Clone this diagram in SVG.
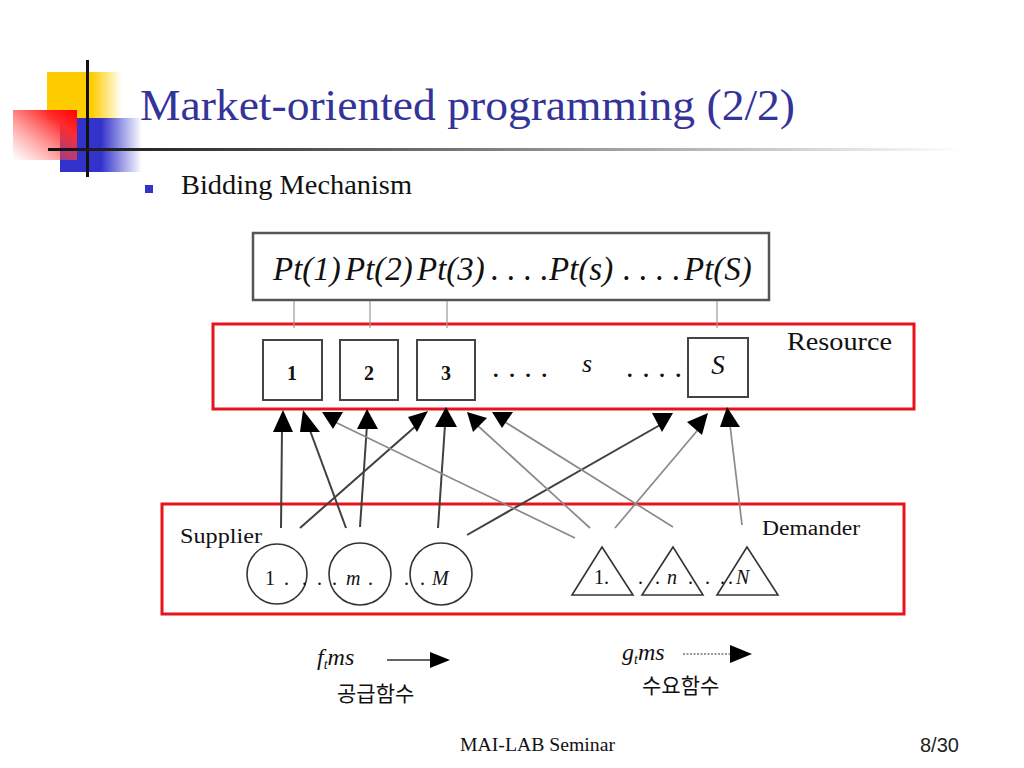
<svg xmlns="http://www.w3.org/2000/svg" xmlns:xlink="http://www.w3.org/1999/xlink" width="1024" height="768" viewBox="0 0 1024 768">
<style>
.serif{font-family:"Liberation Serif","Times New Roman",serif;fill:#111}
.it{font-style:italic}
.kr{font-family:"Noto Sans CJK KR","Noto Sans",sans-serif;fill:#111}
.redbox{fill:none;stroke:#e8141b;stroke-width:3}
.rbox{fill:#fff;stroke:#444;stroke-width:2}
.node{fill:#fff;stroke:#333;stroke-width:1.6}
.sup{stroke:#404040;stroke-width:2;fill:none}
.dem{stroke:#8a8a8a;stroke-width:1.7;fill:none}
.tick{stroke:#999;stroke-width:1.2}
.head{fill:#000}
</style>
<defs>
<linearGradient id="gY" x1="0" y1="0" x2="1" y2="0">
<stop offset="0" stop-color="#ffcc00"/><stop offset="0.6" stop-color="#ffcc00"/><stop offset="1" stop-color="#ffcc00" stop-opacity="0"/>
</linearGradient>
<linearGradient id="gB" x1="0" y1="0" x2="1" y2="0">
<stop offset="0" stop-color="#3333cc"/><stop offset="0.5" stop-color="#3333cc"/><stop offset="1" stop-color="#3333cc" stop-opacity="0"/>
</linearGradient>
<linearGradient id="gR" x1="1" y1="0" x2="0" y2="1">
<stop offset="0" stop-color="#ff0000"/><stop offset="0.25" stop-color="#ff2a2a"/><stop offset="1" stop-color="#ff6666" stop-opacity="0"/>
</linearGradient>
<linearGradient id="gL" x1="0" y1="0" x2="1" y2="0">
<stop offset="0" stop-color="#111"/><stop offset="0.45" stop-color="#777"/><stop offset="1" stop-color="#fff"/>
</linearGradient>
</defs>
<rect width="1024" height="768" fill="#fff"/>

<g id="logo">
<rect x="47" y="72" width="75" height="48" fill="url(#gY)"/>
<rect x="60" y="118" width="82" height="54" fill="url(#gB)"/>
<rect x="13" y="110" width="64" height="50" fill="url(#gR)"/>
<rect x="86" y="60" width="3" height="117" fill="#111"/>
<rect x="48" y="148" width="915" height="3" fill="url(#gL)"/>
</g>

<text id="title" x="140" y="120" font-family="Liberation Serif, Times New Roman, serif" font-size="44" fill="#333399" textLength="655" lengthAdjust="spacingAndGlyphs">Market-oriented programming (2/2)</text>
<rect id="bullet" x="145" y="185" width="8" height="8" fill="#3333cc"/>
<text id="subtitle" class="serif" x="181" y="194" font-size="27" textLength="231" lengthAdjust="spacingAndGlyphs">Bidding Mechanism</text>

<g id="price-box">
<rect x="253" y="233" width="516" height="67" fill="#fff" stroke="#555" stroke-width="2.5"/>
<text class="serif it" y="280" font-size="33">
<tspan x="273">Pt(1)</tspan><tspan x="345">Pt(2)</tspan><tspan x="417">Pt(3)</tspan><tspan x="491">. . . .</tspan><tspan x="549">Pt(s)</tspan><tspan x="623">. . . .</tspan><tspan x="684">Pt(S)</tspan>
</text>
</g>

<g id="resource-group">
<rect class="redbox" x="213" y="324" width="701" height="85"/>
<text class="serif" x="787" y="350" font-size="25" textLength="105" lengthAdjust="spacingAndGlyphs">Resource</text>
</g>
<g id="res-1"><rect class="rbox" x="263" y="340" width="59" height="60"/><text class="serif" x="292" y="380" font-size="20" font-weight="bold" text-anchor="middle">1</text></g>
<g id="res-2"><rect class="rbox" x="340" y="340" width="58" height="60"/><text class="serif" x="369" y="380" font-size="20" font-weight="bold" text-anchor="middle">2</text></g>
<g id="res-3"><rect class="rbox" x="417" y="340" width="58" height="60"/><text class="serif" x="446" y="380" font-size="20" font-weight="bold" text-anchor="middle">3</text></g>
<g id="res-dots">
<text class="serif" x="493" y="377" font-size="22" font-weight="bold" textLength="54" lengthAdjust="spacing">. . . .</text>
<text class="serif it" x="582" y="372" font-size="26">s</text>
<text class="serif" x="627" y="377" font-size="22" font-weight="bold" textLength="54" lengthAdjust="spacing">. . . .</text>
</g>
<g id="res-S"><rect class="rbox" x="688" y="338" width="60" height="59"/><text class="serif it" x="718" y="374" font-size="27" text-anchor="middle">S</text></g>

<g id="supplier-group">
<rect class="redbox" x="162" y="504" width="742" height="110"/>
<text class="serif" x="180" y="543" font-size="22" textLength="82" lengthAdjust="spacingAndGlyphs">Supplier</text>
</g>
<g id="sup-1"><circle class="node" cx="277" cy="574" r="30"/></g>
<g id="sup-m"><circle class="node" cx="360" cy="574" r="31"/></g>
<g id="sup-M"><circle class="node" cx="441" cy="574" r="31"/></g>
<text id="sup-labels" class="serif" y="585" font-size="20">
<tspan x="265">1</tspan><tspan x="284">.</tspan><tspan x="302">.</tspan><tspan x="317">.</tspan><tspan x="332">.</tspan><tspan x="346" font-style="italic">m</tspan><tspan x="368">.</tspan><tspan x="404">.</tspan><tspan x="420">.</tspan><tspan x="432" font-style="italic">M</tspan>
</text>

<g id="demander-group">
<text class="serif" x="762" y="535" font-size="20" textLength="98" lengthAdjust="spacingAndGlyphs">Demander</text>
</g>
<g id="dem-1"><polygon class="node" points="602,547 572,595 633,595"/></g>
<g id="dem-n"><polygon class="node" points="673,547 642,595 703,595"/></g>
<g id="dem-N"><polygon class="node" points="747,547 717,595 778,595"/></g>
<text id="dem-labels" class="serif" y="584" font-size="20">
<tspan x="594">1.</tspan><tspan x="638">.</tspan><tspan x="655">.</tspan><tspan x="667" font-style="italic">n</tspan><tspan x="688">.</tspan><tspan x="705">.</tspan><tspan x="720">.</tspan><tspan x="728">.</tspan><tspan x="736" font-style="italic">N</tspan>
</text>

<g id="connectors">
<line class="tick" x1="294" y1="301" x2="294" y2="328"/>
<line class="tick" x1="370" y1="301" x2="370" y2="328"/>
<line class="tick" x1="447" y1="301" x2="447" y2="328"/>
<line class="tick" x1="717" y1="301" x2="717" y2="328"/>

<line class="sup" x1="281" y1="528" x2="282" y2="428"/>
<line class="sup" x1="346" y1="528" x2="308" y2="425"/>
<line class="sup" x1="300" y1="528" x2="417" y2="425"/>
<line class="sup" x1="360" y1="527" x2="367" y2="425"/>
<line class="sup" x1="438" y1="528" x2="445" y2="425"/>
<line class="sup" x1="467" y1="535" x2="660" y2="425"/>

<line class="dem" x1="575" y1="538" x2="335" y2="422"/>
<line class="dem" x1="590" y1="528" x2="477" y2="425"/>
<line class="dem" x1="673" y1="527" x2="505" y2="422"/>
<line class="dem" x1="615" y1="528" x2="702" y2="425"/>
<line class="dem" x1="742" y1="525" x2="730" y2="425"/>

<polygon class="head" points="283,410 273,432 293,432"/>
<polygon class="head" points="303,410 300,432 320,432"/>
<polygon class="head" points="322,412 343,412 333,429"/>
<polygon class="head" points="367,409 357,429 378,429"/>
<polygon class="head" points="408,417 428,411 417,432"/>
<polygon class="head" points="446,407 435,427 457,427"/>
<polygon class="head" points="467,412 487,418 473,432"/>
<polygon class="head" points="492,412 513,412 502,428"/>
<polygon class="head" points="652,413 673,413 662,432"/>
<polygon class="head" points="687,422 708,413 702,435"/>
<polygon class="head" points="727,407 720,427 740,427"/>
</g>

<g id="legend">
<text class="serif it" x="317" y="665" font-size="24">f<tspan font-size="14" dy="4">t</tspan><tspan dy="-4">ms</tspan></text>
<line x1="387" y1="660" x2="432" y2="660" stroke="#333" stroke-width="1.5"/>
<polygon class="head" points="430,652 450,660 430,668"/>
<text class="kr" x="337" y="701" font-size="21">공급함수</text>
<text class="serif it" x="622" y="660" font-size="24">g<tspan font-size="14" dy="4">t</tspan><tspan dy="-4">ms</tspan></text>
<line x1="683" y1="654" x2="732" y2="654" stroke="#333" stroke-width="1.2" stroke-dasharray="2 1.5"/>
<polygon class="head" points="730,645 752,654 730,663"/>
<text class="kr" x="642" y="693" font-size="21">수요함수</text>
</g>

<text id="footer" class="serif" x="460" y="751" font-size="18" textLength="155" lengthAdjust="spacingAndGlyphs">MAI-LAB Seminar</text>
<text id="page" x="920" y="752" font-family="Liberation Sans, Arial, sans-serif" font-size="20" fill="#222">8/30</text>
</svg>
